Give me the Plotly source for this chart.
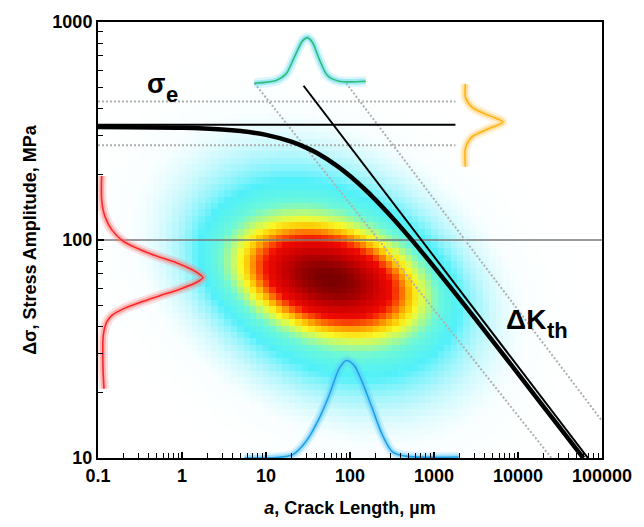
import numpy as np
import plotly.graph_objects as go

# ---------------- data ----------------
# El Haddad type threshold curve (thick)
haddad_a = [0.1, 1, 3, 5, 10, 20, 30, 40, 70, 100, 150, 200, 300, 500, 1000, 3000, 10000, 30000, 60000]
haddad_s = [329.7, 327.0, 321.4, 315.9, 303.6, 282.6, 265.4, 251.1, 218.9, 196.6, 170.9, 153.3, 129.9, 103.9, 75.3, 44.3, 24.4, 14.1, 9.99]

# fatigue limit sigma_e and its scatter band
sige_a = [0.1, 1800]
sige_s = [338, 338]
sige_hi_s = [432, 432]
sige_lo_s = [272, 272]

# Delta K_th line and its scatter band
kth_a = [28, 68000]
kth_s = [510, 10]
kth_lo_a = [7.3, 25000]
kth_lo_s = [524, 10]
kth_hi_a = [90, 100000]
kth_hi_s = [524, 14.8]

# reference line at 100 MPa
ref_a = [0.1, 100000]
ref_s = [100, 100]

# distribution curves
red_a = [0.1106, 0.1106, 0.121, 0.1454, 0.1995, 0.315, 0.497, 0.858, 1.293, 1.622, 1.775,
         1.482, 0.939, 0.544, 0.315, 0.1995, 0.1454, 0.1268, 0.1156, 0.1146, 0.1178]
red_s = [196.7, 152.9, 128.3, 111.6, 98.7, 90.5, 84.4, 78.7, 73.4, 69.6, 67.3,
         63.8, 59.5, 55.5, 51.7, 48.3, 45.0, 42.0, 36.5, 26.5, 20.8]

green_a = [7.28, 13.2, 17.3, 21.7, 27.2, 31.2, 35.8, 43.0, 53.9, 74.3, 154]
green_s = [524, 539, 578, 688, 819, 848, 805, 676, 568, 535, 535]

orange_a = [2366, 2366, 2833, 4467, 6600, 4467, 2833, 2366, 2366]
orange_s = [520, 452, 407, 373, 348, 324, 297, 263, 217]

blue_a = [5.55, 13.2, 20.7, 29.9, 43.0, 56.5, 74.3, 90.6, 112, 140, 184, 242, 318, 459, 1968]
blue_s = [10.0, 10.05, 10.35, 11.9, 15.2, 19.4, 25.7, 28.0, 26.6, 22.3, 16.9, 12.8, 10.7, 10.2, 10.1]

# joint density blob (log10 a, log10 sigma)
blob_center = (1.75, 1.82)
blob_core_sd = (0.62, 0.14)
blob_halo_sd = (0.90, 0.30)
blob_weights = (0.7, 0.3)
blob_rho = -0.3

x_ticks = [0.1, 1, 10, 100, 1000, 10000, 100000]
x_ticktext = ["0.1", "1", "10", "100", "1000", "10000", "100000"]
y_ticks = [10, 100, 1000]
y_ticktext = ["10", "100", "1000"]

# ---------------- density grid ----------------
lx = np.arange(-1.0, 5.04, 0.077)
ly = np.arange(1.0, 3.02, 0.0296)
X, Y = np.meshgrid(lx, ly)


def gauss(sd):
    dx = (X - blob_center[0]) / sd[0]
    dy = (Y - blob_center[1]) / sd[1]
    q = (dx * dx - 2 * blob_rho * dx * dy + dy * dy) / (1 - blob_rho ** 2)
    return np.exp(-0.5 * q)


Z = blob_weights[0] * gauss(blob_core_sd) + blob_weights[1] * gauss(blob_halo_sd)

cscale = [[0, 'rgb(255,255,255)'], [0.012, 'rgb(248,254,255)'], [0.045, 'rgb(185,247,252)'],
          [0.1, 'rgb(80,240,250)'], [0.18, 'rgb(110,248,215)'], [0.25, 'rgb(185,250,120)'],
          [0.31, 'rgb(250,250,40)'], [0.38, 'rgb(255,195,0)'], [0.46, 'rgb(255,100,0)'],
          [0.56, 'rgb(240,10,0)'], [0.74, 'rgb(200,0,0)'], [0.9, 'rgb(150,0,0)'], [1, 'rgb(120,0,0)']]

fig = go.Figure()

fig.add_trace(go.Heatmap(x=lx, y=ly, z=Z, colorscale=cscale, zmin=0, zmax=float(Z.max()),
                         zsmooth=False, showscale=False, hoverinfo='skip',
                         xaxis='x', yaxis='y'))


def line(a, s, color, width, dash=None, shape='linear', smoothing=1.0):
    fig.add_trace(go.Scatter(x=a, y=s, mode='lines', xaxis='x2', yaxis='y2',
                             line=dict(color=color, width=width, dash=dash, shape=shape,
                                       smoothing=smoothing),
                             hoverinfo='skip', showlegend=False))


def glow(a, s, core, halo):
    line(a, s, halo.replace('A', '0.22'), 10, shape='spline', smoothing=0.8)
    line(a, s, halo.replace('A', '0.45'), 5.5, shape='spline', smoothing=0.8)
    line(a, s, core, 1.6, shape='spline', smoothing=0.8)


# reference line
line(ref_a, ref_s, 'rgb(120,120,120)', 1.5)

# scatter bands (dotted)
dot = '2px,2px'
dcol = 'rgb(175,175,175)'
line(sige_a, sige_hi_s, dcol, 2, dash=dot)
line(sige_a, sige_lo_s, dcol, 2, dash=dot)
line(kth_lo_a, kth_lo_s, dcol, 2, dash=dot)
line(kth_hi_a, kth_hi_s, dcol, 2, dash=dot)

# distributions
glow(red_a, red_s, 'rgb(250,40,40)', 'rgba(255,120,120,A)')
glow(green_a, green_s, 'rgb(40,190,120)', 'rgba(90,215,240,A)')
glow(orange_a, orange_s, 'rgb(255,180,20)', 'rgba(255,200,90,A)')
glow(blue_a, blue_s, 'rgb(30,160,230)', 'rgba(90,200,250,A)')

# main lines
line(sige_a, sige_s, 'black', 2)
line(kth_a, kth_s, 'black', 2)
line(haddad_a, haddad_s, 'black', 4.5, shape='spline', smoothing=0.6)

tfont = dict(family='Liberation Sans, Arial', size=18, color='black', weight='bold')

fig.update_layout(
    width=644, height=527,
    margin=dict(l=98, r=40, t=21, b=67),
    paper_bgcolor='white', plot_bgcolor='white',
    showlegend=False,
    xaxis=dict(range=[-1, 5], visible=False, fixedrange=True),
    yaxis=dict(range=[1, 3], visible=False, fixedrange=True),
    xaxis2=dict(type='log', range=[-1, 5], overlaying='x', anchor='y2', side='bottom',
                tickvals=x_ticks, ticktext=x_ticktext, ticks='inside', ticklen=6,
                tickwidth=1.5, tickcolor='black',
                minor=dict(ticks='inside', ticklen=5, tickwidth=1, tickcolor='black',
                           dtick='D1', showgrid=False),
                showgrid=False, zeroline=False, showline=True, linecolor='black',
                linewidth=2, mirror=True, tickfont=tfont,
                title=dict(text='<i>a</i>, Crack Length, µm', font=tfont, standoff=17)),
    yaxis2=dict(type='log', range=[1, 3], overlaying='y', anchor='x2', side='left',
                tickvals=y_ticks, ticktext=y_ticktext, ticks='inside', ticklen=6,
                tickwidth=1.5, tickcolor='black',
                minor=dict(ticks='inside', ticklen=5, tickwidth=1, tickcolor='black',
                           dtick='D1', showgrid=False),
                showgrid=False, zeroline=False, showline=True, linecolor='black',
                linewidth=2, mirror=True, tickfont=tfont,
                title=dict(text='Δσ, Stress Amplitude, MPa', font=tfont, standoff=11)),
)

lab = dict(family='Liberation Sans, Arial', color='black', weight='bold')
# sigma_e label (symbol + subscript)
fig.add_annotation(text='σ', x=0.1146, y=0.857, xref='paper', yref='paper', showarrow=False,
                   font=dict(size=27, **lab), xanchor='center', yanchor='middle')
fig.add_annotation(text='e', x=0.1462, y=0.834, xref='paper', yref='paper', showarrow=False,
                   font=dict(size=22, **lab), xanchor='center', yanchor='middle')
# Delta K_th label
fig.add_annotation(text='ΔK', x=0.8500, y=0.318, xref='paper', yref='paper', showarrow=False,
                   font=dict(size=28, **lab), xanchor='center', yanchor='middle')
fig.add_annotation(text='th', x=0.9115, y=0.292, xref='paper', yref='paper', showarrow=False,
                   font=dict(size=22, **lab), xanchor='center', yanchor='middle')

fig.write_html('out.html')
